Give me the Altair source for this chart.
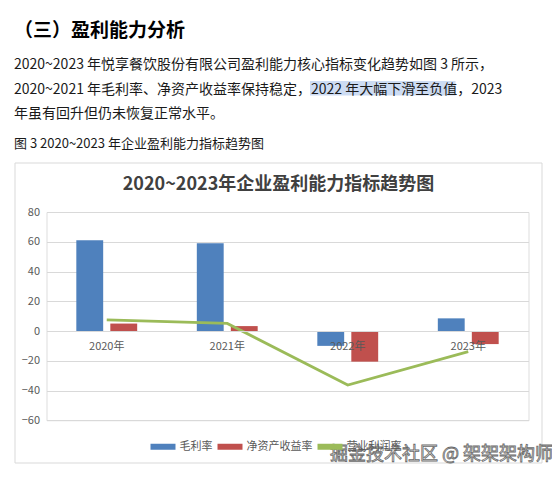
import altair as alt
import pandas as pd

# ---- data ----
years = ["2020年", "2021年", "2022年", "2023年"]
gross_margin = [61, 59, -10, 8.5]          # 毛利率
roe = [5, 3.3, -20.6, -8.8]                # 净资产收益率
op_margin = [7.4, 5.1, -36.3, -13.9]       # 营业利润率
series = ["毛利率", "净资产收益率", "营业利润率"]
colors = ["#4f81bd", "#c0504d", "#9bbb59"]
y_ticks = [-60, -40, -20, 0, 20, 40, 60, 80]

heading = "（三）盈利能力分析"
para_lines = [
    "2020~2023 年悦享餐饮股份有限公司盈利能力核心指标变化趋势如图 3 所示，",
    "2020~2021 年毛利率、净资产收益率保持稳定，2022 年大幅下滑至负值，2023",
    "年虽有回升但仍未恢复正常水平。",
]
caption = "图 3 2020~2023 年企业盈利能力指标趋势图"
chart_title = "2020~2023年企业盈利能力指标趋势图"
watermark = "掘金技术社区 @ 架架架构师"

FONT = "Noto Sans CJK SC"

bars_df = pd.DataFrame({
    "年份": years * 2,
    "指标": [series[0]] * 4 + [series[1]] * 4,
    "值": gross_margin + roe,
})
line_df = pd.DataFrame({"年份": years, "指标": [series[2]] * 4, "值": op_margin})

W, H = 482, 208.25
zero_off = H * 60 / 140  # distance of the zero line above plot bottom

color_scale = alt.Scale(domain=series, range=colors)
legend = alt.Legend(
    orient="none", legendX=104, legendY=222, direction="horizontal", title=None,
    symbolType="M-1,-0.24H1V0.24H-1Z", symbolSize=625, symbolStrokeWidth=0,
    labelFontSize=11, labelColor="#595959", labelFont=FONT, labelOffset=4,
    columnPadding=5,
)
x_axis = alt.Axis(
    title=None, labelAngle=0, offset=-zero_off, domain=True, domainColor="#d9d9d9",
    ticks=False, labelPadding=9, labelFontSize=11, labelColor="#595959",
    labelFont=FONT, grid=False, zindex=1,
)
y_axis = alt.Axis(
    title=None, values=y_ticks, tickCount=8, grid=True, gridColor="#d9d9d9", domain=False,
    ticks=False, labelPadding=7, labelFontSize=11, labelColor="#595959", labelFont=FONT,
    labelOverlap=False, labelFlush=False,
)
y_scale = alt.Scale(domain=[-60, 80], nice=False, zero=False)

bars = alt.Chart(bars_df).mark_bar().encode(
    x=alt.X("年份:N", sort=years, scale=alt.Scale(paddingInner=0, paddingOuter=0), axis=x_axis),
    xOffset=alt.XOffset("指标:N", sort=series[:2],
                        scale=alt.Scale(domain=series[:2], paddingInner=0.21, paddingOuter=0.877)),
    y=alt.Y("值:Q", scale=y_scale, axis=y_axis),
    color=alt.Color("指标:N", scale=color_scale, sort=series, legend=legend),
)
line = alt.Chart(line_df).mark_line(strokeWidth=2.75).encode(
    x=alt.X("年份:N", sort=years, bandPosition=0.5, axis=x_axis),
    y=alt.Y("值:Q", scale=y_scale, axis=y_axis),
    color=alt.Color("指标:N", scale=color_scale, sort=series, legend=legend),
)

one = pd.DataFrame({"a": [0]})
frame = alt.Chart(one).mark_rect(fillOpacity=0, stroke="#d9d9d9", strokeWidth=1).encode(
    x=alt.value(-31.5), x2=alt.value(495.5), y=alt.value(-49), y2=alt.value(251))
highlight = alt.Chart(one).mark_rect(color="#cddcf3").encode(
    x=alt.value(263.5), x2=alt.value(409), y=alt.value(-131), y2=alt.value(-116.5))


def txt(t, x, y, size, weight="normal", color="#1a1a1a", align="left", **kw):
    return alt.Chart(pd.DataFrame({"t": [t]})).mark_text(
        align=align, baseline="middle", fontSize=size, fontWeight=weight,
        font=FONT, color=color, **kw
    ).encode(x=alt.value(x), y=alt.value(y), text="t:N")


texts = [
    txt(heading, -32.5, -181, 19, "bold", "#000000"),
    txt(para_lines[0], -32.5, -147, 14),
    txt(para_lines[1], -32.5, -122.5, 14),
    txt(para_lines[2], -32.5, -98, 14),
    txt(caption, -32.5, -68.5, 13),
    txt(chart_title, 232, -27, 18, "bold", "#404040", "center"),
]
wm = txt(watermark, 283.5, 243, 18, "normal", "#f4f4f4", stroke="#6a6a6a", strokeWidth=0.8)

chart = alt.layer(frame, highlight, *texts, bars, line, wm).properties(
    width=W, height=H,
    padding={"left": 38.5, "top": 204, "right": 23.5, "bottom": 51.75},
    autosize=alt.AutoSizeParams(type="none"),
    background="white",
).configure_view(stroke=None).configure(font=FONT)

chart.save("out.html", embed_options={"renderer": "svg", "actions": False})
